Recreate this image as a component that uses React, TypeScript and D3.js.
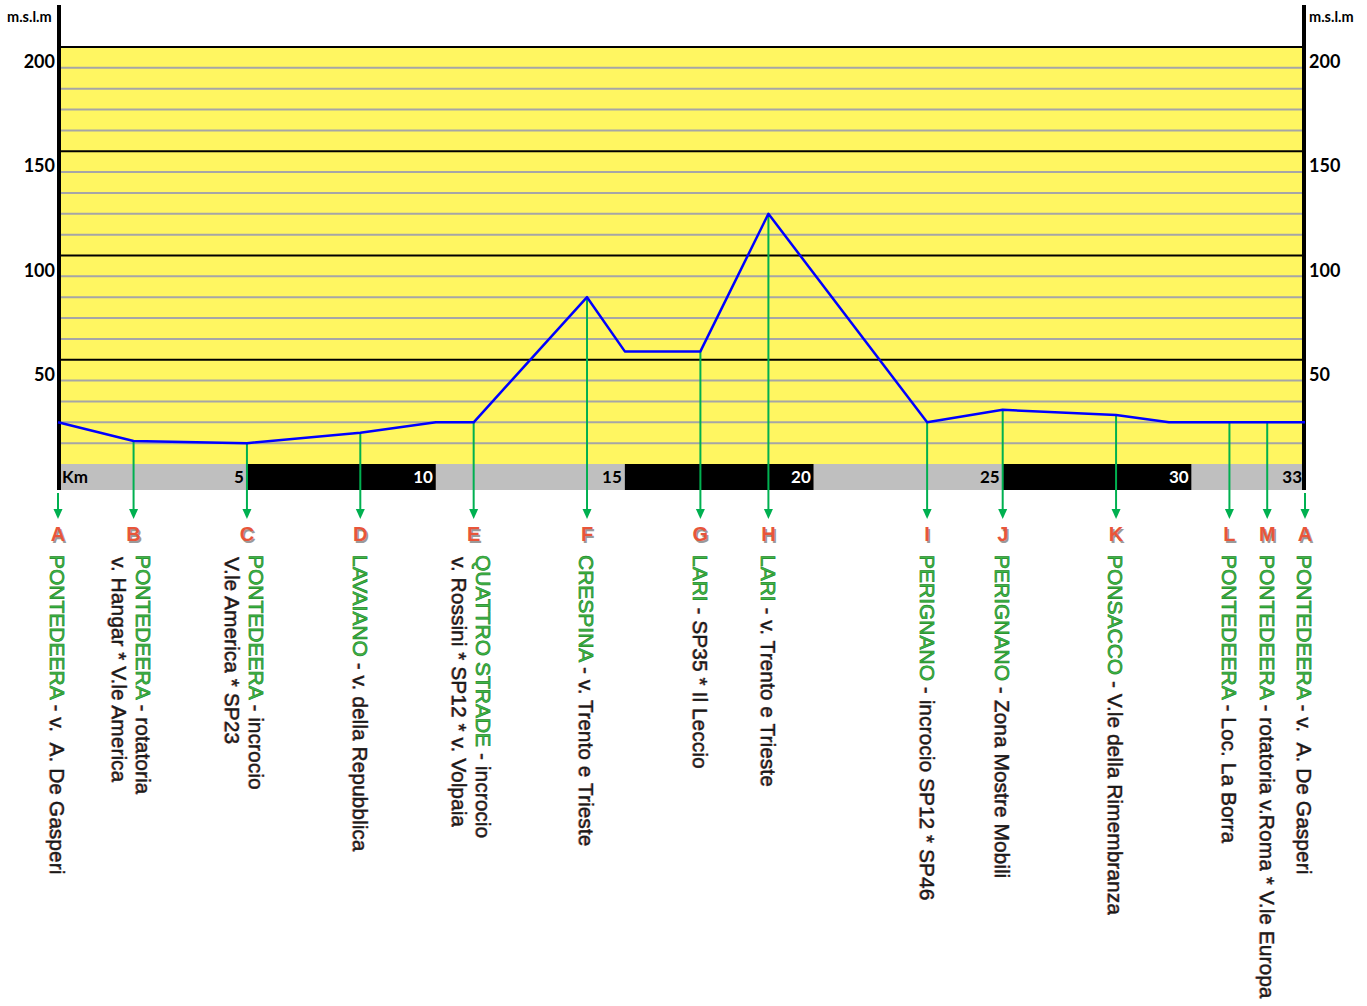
import React from "react";
import * as d3 from "d3";

const W = 1367;
const H = 1006;

// Elevation profile (km, metres a.s.l.)
const profileKm = [0, 2, 5, 8, 10, 11, 14, 15, 17, 18.8, 23, 25, 28, 29.4, 31, 32, 33];
const profileElev = [20, 11, 10, 15, 20, 20, 80, 54, 54, 120, 20, 26, 23.5, 20, 20, 20, 20];

// Waypoints
const wayLetters = ["A", "B", "C", "D", "E", "F", "G", "H", "I", "J", "K", "L", "M", "A"];
const wayKm = [0, 2, 5, 8, 11, 14, 17, 18.8, 23, 25, 28, 31, 32, 33];
const wayPlace = [
  "PONTEDEERA", "PONTEDEERA", "PONTEDEERA", "LAVAIANO", "QUATTRO STRADE", "CRESPINA", "LARI", "LARI",
  "PERIGNANO", "PERIGNANO", "PONSACCO", "PONTEDEERA", "PONTEDEERA", "PONTEDEERA",
];
const wayDesc = [
  " - v.  A. De Gasperi", " - rotatoria", " - incrocio", " - v. della Repubblica", " - incrocio",
  " - v. Trento e Trieste", " - SP35 * Il Leccio", " - v. Trento e Trieste", " - incrocio SP12 * SP46",
  " - Zona Mostre Mobili", " - V.le della Rimembranza", " - Loc. La Borra",
  " - rotatoria v.Roma * V.le Europa", " - v.  A. De Gasperi",
];
const wayDesc2 = ["", "v. Hangar * V.le America", "V.le America * SP23", "", "v. Rossini * SP12 * v. Volpaia", "", "", "", "", "", "", "", "", ""];

// Axis ticks
const elevTicks = [50, 100, 150, 200];
const minorTicks = d3.range(10, 200, 10);
const kmBreaks = [0, 5, 10, 15, 20, 25, 30, 33];
const kmLabels = ["5", "10", "15", "20", "25", "30", "33"];

const YELLOW = "#fff661";
const GRID = "#a6a6a6";
const ARROW = "#00b050";
const LETTER = "#e8553a";
const PLACE = "#3fb847";
const LABEL_FONT = "'Liberation Sans', Arial, sans-serif";
const AXIS_FONT = "Lato, 'Open Sans', sans-serif";

export default function App() {
  const x = d3.scaleLinear().domain([0, 33]).range([58, 1305]);
  const y = d3.scaleLinear().domain([0, 200]).range([464, 47]);
  const barTop = 464;
  const barBottom = 490;

  const line = d3
    .line<number>()
    .x((_, i) => x(profileKm[i]))
    .y((d) => y(d));

  const labelTop = 555;
  const LFS = 21;

  return (
    <svg
      width={W}
      height={H}
      style={{ position: "absolute", left: 0, top: 0, background: "#fff" }}
    >
      {/* yellow plot area */}
      <rect x={x(0)} y={y(200)} width={x(33) - x(0)} height={y(0) - y(200)} fill={YELLOW} />
      {/* minor grid */}
      {minorTicks
        .filter((t) => t % 50 !== 0)
        .map((t) => (
          <line key={"g" + t} x1={x(0)} x2={x(33)} y1={y(t)} y2={y(t)} stroke={GRID} strokeWidth={2} />
        ))}
      {/* major grid */}
      {elevTicks.map((t) => (
        <line key={"M" + t} x1={x(0)} x2={x(33)} y1={y(t)} y2={y(t)} stroke="#000" strokeWidth={2} />
      ))}

      {/* km bar */}
      {kmBreaks.slice(0, -1).map((k, i) => (
        <rect
          key={"kb" + i}
          x={x(k)}
          y={barTop}
          width={x(kmBreaks[i + 1]) - x(k)}
          height={barBottom - barTop}
          fill={i % 2 === 0 ? "#bfbfbf" : "#000"}
        />
      ))}
      <text x={x(0) + 4} y={483} fontFamily={AXIS_FONT} fontWeight={700} fontSize={17} fill="#000">
        Km
      </text>
      {kmLabels.map((lab, i) => (
        <text
          key={"kl" + i}
          x={x(kmBreaks[i + 1]) - 3}
          y={483}
          textAnchor="end"
          fontFamily={AXIS_FONT}
          fontWeight={700}
          fontSize={17}
          fill={i % 2 === 0 ? "#000" : "#fff"}
        >
          {lab}
        </text>
      ))}

      {/* vertical axis lines */}
      <line x1={59} x2={59} y1={5} y2={barBottom} stroke="#000" strokeWidth={4} />
      <line x1={1304} x2={1304} y1={5} y2={barBottom} stroke="#000" strokeWidth={4} />

      {/* axis labels */}
      <text x={7} y={22} fontFamily={AXIS_FONT} fontWeight={700} fontSize={14.5} fill="#000">
        m.s.l.m
      </text>
      <text x={1309} y={22} fontFamily={AXIS_FONT} fontWeight={700} fontSize={14.5} fill="#000">
        m.s.l.m
      </text>
      {elevTicks.map((t) => (
        <g key={"yl" + t}>
          <text x={55} y={y(t) + 21} textAnchor="end" fontFamily={AXIS_FONT} fontWeight={700} fontSize={18} fill="#000">
            {t}
          </text>
          <text x={1309} y={y(t) + 21} textAnchor="start" fontFamily={AXIS_FONT} fontWeight={700} fontSize={18} fill="#000">
            {t}
          </text>
        </g>
      ))}

      {/* arrows */}
      {wayKm.map((k, i) => {
        const idx = profileKm.indexOf(k);
        const isEnd = i === 0 || i === wayKm.length - 1;
        const y1 = isEnd || idx < 0 ? 493 : y(profileElev[idx]);
        const xx = x(k);
        return (
          <g key={"ar" + i}>
            <line x1={xx} x2={xx} y1={y1} y2={512} stroke={ARROW} strokeWidth={2} />
            <polygon points={`${xx - 4.5},${509} ${xx + 4.5},${509} ${xx},${519}`} fill={ARROW} />
          </g>
        );
      })}

      {/* profile line */}
      <path d={line(profileElev) || ""} fill="none" stroke="#0000ff" strokeWidth={2.5} strokeLinejoin="round" />

      {/* waypoint letters */}
      {wayLetters.map((L, i) => (
        <g key={"lt" + i} fontFamily={LABEL_FONT} fontWeight={700} fontSize={20} textAnchor="middle">
          <text x={x(wayKm[i]) + 1.5} y={542.5} fill="#9a9a9a">
            {L}
          </text>
          <text x={x(wayKm[i])} y={541} fill={LETTER}>
            {L}
          </text>
        </g>
      ))}

      {/* rotated labels */}
      {wayKm.map((k, i) => {
        const two = wayDesc2[i] !== "";
        const cx = x(k);
        const l1 = two ? cx + 10 : cx;
        const l2 = cx - 14;
        return (
          <g key={"lb" + i} fontFamily={LABEL_FONT} fontSize={LFS}>
            <g transform={`translate(${l1},${labelTop}) rotate(90)`}>
              <text x={0} y={1} dy="0.36em" fill="#c0392b" opacity={0.5} xmlSpace="preserve" style={{ whiteSpace: "pre" }}>
                <tspan fill="none">{wayPlace[i]}</tspan>
                <tspan>{wayDesc[i]}</tspan>
              </text>
              <text x={0} y={0} dy="0.36em" xmlSpace="preserve" style={{ whiteSpace: "pre" }}>
                <tspan fill={PLACE} stroke="#1f8a2a" strokeWidth={0.7}>
                  {wayPlace[i]}
                </tspan>
                <tspan fill="#1a1a1a" stroke="#1a1a1a" strokeWidth={0.35}>
                  {wayDesc[i]}
                </tspan>
              </text>
            </g>
            {two && (
              <g transform={`translate(${l2},${labelTop + 2}) rotate(90)`}>
                <text x={0} y={1} dy="0.36em" fill="#c0392b" opacity={0.5} xmlSpace="preserve" style={{ whiteSpace: "pre" }}>
                  {wayDesc2[i]}
                </text>
                <text x={0} y={0} dy="0.36em" fill="#1a1a1a" stroke="#1a1a1a" strokeWidth={0.35} xmlSpace="preserve" style={{ whiteSpace: "pre" }}>
                  {wayDesc2[i]}
                </text>
              </g>
            )}
          </g>
        );
      })}
    </svg>
  );
}
